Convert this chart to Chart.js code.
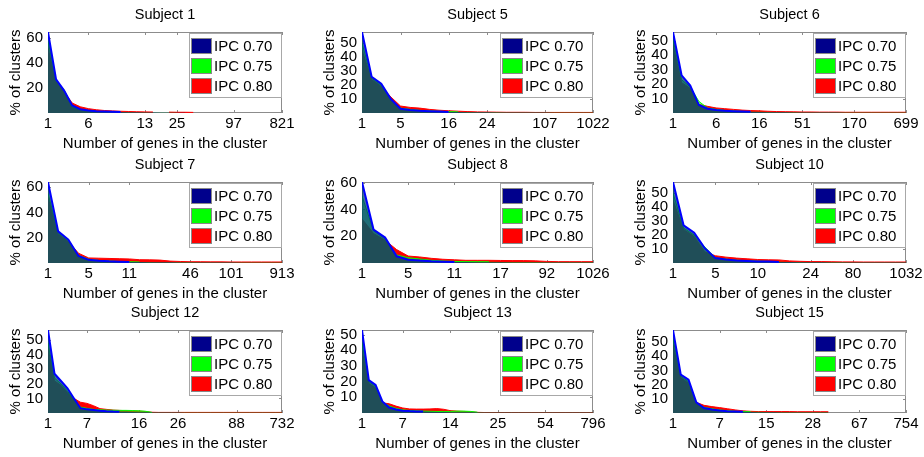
<!DOCTYPE html>
<html>
<head>
<meta charset="utf-8">
<script src="https://cdn.jsdelivr.net/npm/chart.js@4.4.1/dist/chart.umd.min.js"></script>
<style>
    body { margin: 0; background: #fff; }
    #page { position: relative; width: 924px; height: 457px; overflow: hidden; background: #fff; }
    #page canvas { position: absolute; }
</style>
</head>
<body>
<div id="page"></div>
<script>
const titles = ["Subject 1", "Subject 5", "Subject 6", "Subject 7", "Subject 8", "Subject 10", "Subject 12", "Subject 13", "Subject 15"];
const seriesLabels = ["IPC 0.70", "IPC 0.75", "IPC 0.80"];

// % of clusters, one value per cluster-size rank (1, 2, 3 ...)
const ipc70 = [
    [65, 27, 18, 6, 3, 2, 1.5, 1.2, 1, 0.8, 0.7, 0.6, 0.5, 0.4, 0.3, 0.3, 0.2, 0.2],
    [58, 26, 21, 10, 3, 2.2, 1.6, 1.3, 1, 0.8, 0.7, 0.6, 0.5, 0.5, 0.4, 0.4, 0.3, 0.3, 0.3, 0.3, 0.2, 0.2, 0.2, 0.2, 0.2],
    [56, 26, 19, 5.5, 3, 2, 1.5, 1.2, 1, 0.8, 0.7, 0.6, 0.5, 0.5, 0.4, 0.4, 0.3, 0.3, 0.3, 0.3, 0.2, 0.2, 0.2, 0.2, 0.2, 0.2, 0.2, 0.2],
    [64, 25, 18.5, 5.5, 2.5, 1.8, 1.3, 1, 0.8, 0.7, 0.6, 0.5, 0.5, 0.4, 0.4, 0.3, 0.3, 0.3, 0.3, 0.2, 0.2, 0.2, 0.2, 0.2],
    [60.5, 25, 19, 5, 2.5, 1.8, 1.3, 1, 0.8, 0.7, 0.6, 0.5, 0.5, 0.4, 0.4, 0.3, 0.3, 0.3, 0.3, 0.3, 0.3],
    [58, 27, 21.7, 10.6, 3.5, 2.5, 1.8, 1.4, 1.1, 1, 0.8, 0.7, 0.6, 0.5, 0.5, 0.4, 0.4, 0.3, 0.3, 0.3, 0.3, 0.3, 0.3],
    [57, 27, 22, 17, 10, 3.3, 2.5, 2, 1.5, 1.2, 1, 0.9, 0.8, 0.7, 0.6, 0.5, 0.4, 0.3, 0.3, 0.3, 0.3, 0.2, 0.2, 0.2, 0.2, 0.2, 0.2, 0.2, 0.2, 0.2, 0.2, 0.2, 0.2, 0.2, 0.2, 0.2, 0.2],
    [53, 21, 18, 7.4, 3.5, 2.2, 1.5, 1.2, 1, 0.9, 0.8, 0.7, 0.6, 0.5, 0.5, 0.4, 0.4, 0.3, 0.3, 0.3, 0.3, 0.3, 0.3, 0.3, 0.3, 0.3, 0.3, 0.3, 0.3, 0.3, 0.3, 0.3, 0.3, 0.3, 0.3],
    [58.5, 27, 23.5, 7.5, 3.5, 2.5, 1.8, 1.3, 1, 0.8, 0.7, 0.6, 0.5, 0.5, 0.4, 0.4, 0.3, 0.3, 0.3, 0.3, 0.3]
];
const ipc75 = [
    [58, 26, 18.5, 5, 2.5, 1.8, 1.3, 1, 0.8, 0.7, 0.6, 0.5, 0.4, 0.3, 0.3, 0.2, 0.2],
    [50, 25, 20, 9, 3.5, 2.6, 1.9, 1.5, 1.2, 1, 0.8, 0.7, 0.6, 0.5, 0.5, 0.4, 0.4, 0.4, 0.3, 0.3, 0.3, 0.3, 0.3, 0.3, 0.3],
    [51, 23, 18, 8, 3.5, 2.5, 1.8, 1.4, 1.1, 0.9, 0.8, 0.7, 0.6, 0.5, 0.5, 0.4, 0.4, 0.4, 0.3, 0.3, 0.3, 0.3, 0.3, 0.3, 0.3, 0.3, 0.3, 0.3],
    [55, 24, 18, 6, 3, 2, 1.5, 1.2, 1, 0.8, 0.7, 0.6, 0.6, 0.5, 0.5, 0.4, 0.4, 0.4, 0.4, 0.3, 0.3, 0.3, 0.3, 0.3],
    [50, 24, 18, 6, 4, 3, 2, 1.5, 1.2, 1, 1, 0.9, 0.8, 0.8, 0.7, 0.7, 0.6, 0.6, 0.6, 0.6, 0.6],
    [50, 25, 20, 11.5, 3.7, 2.8, 2, 1.6, 1.3, 1.1, 0.9, 0.8, 0.7, 0.6, 0.5, 0.5, 0.5, 0.4, 0.4, 0.4, 0.4, 0.4, 0.4],
    [48, 24, 20, 15, 9, 4, 3.2, 2.5, 2.2, 2, 1.9, 1.8, 1.8, 1.7, 1.5, 1.2, 0.4, 0.3, 0.3, 0.3, 0.3, 0.3, 0.3, 0.3, 0.3, 0.3, 0.3, 0.3, 0.3, 0.3, 0.3, 0.3, 0.3, 0.3, 0.3, 0.3, 0.3],
    [45, 20, 17, 7, 4.5, 3, 2, 1.6, 1.4, 1.2, 1.1, 1, 1, 1, 1.2, 1.2, 1, 0.5, 0.3, 0.3, 0.3, 0.3, 0.3, 0.3, 0.3, 0.3, 0.3, 0.3, 0.3, 0.3, 0.3, 0.3, 0.3, 0.3, 0.3],
    [52, 26, 22, 7, 4, 3, 2.2, 1.6, 1.2, 1, 0.9, 0.8, 0.7, 0.6, 0.6, 0.5, 0.5, 0.5, 0.5, 0.5, 0.5]
];
const ipc80 = [
    [52, 25, 17, 8, 5, 3.5, 2.6, 2, 1.7, 1.4, 1.2, 1, 0.9, 0.8, null, 0.7, 0.6, 0.6, 0.5],
    [45, 24, 19, 11.5, 5, 4, 3.5, 2.6, 2, 1.6, 1.3, 1, 0.8, 0.7, 0.6, 0.5, 0.5, 0.5, 0.4, 0.4, 0.4, 0.4, 0.4, 0.4, 0.4],
    [47, 21, 17, 6, 4.6, 3.5, 3, 2.5, 2, 1.7, 1.5, 1.2, 1, 0.9, 0.8, 0.7, 0.7, 0.6, 0.6, 0.6, 0.5, 0.5, 0.5, 0.5, 0.5, 0.5, 0.5, 0.5],
    [52, 23, 17, 7.7, 4, 3.8, 3.6, 3.4, 3.2, 2.6, 2.5, 2.3, 1.5, 1.2, 1, 1, 0.9, 0.9, 0.8, 0.8, 0.8, 0.8, 0.8, 0.8],
    [33, 22, 17, 10, 5.2, 4.5, 3.5, 2.8, 2.4, 2, 2, 2, 1.9, 1.8, 1.8, 1.6, 1.2, 1, 1, 1, 1],
    [45, 24, 19, 8, 5.2, 4.2, 3.5, 3, 2.5, 2.3, 2.2, 1.5, 1.2, 1, 1, 0.9, 0.8, 0.8, 0.7, 0.7, 0.7, 0.7, 0.7],
    [45, 22, 19, 14, 10, 7.4, 6.6, 5, 3, 2.5, 2, 1.8, 1.6, 1.5, 1.3, 1, 0.5, 0.4, 0.4, 0.4, 0.4, 0.4, 0.4, 0.4, 0.4, 0.4, 0.4, 0.4, 0.4, 0.4, 0.4, 0.4, 0.4, 0.4, 0.4, 0.4, 0.4],
    [40, 19, 16, 6.5, 5.9, 4.4, 3.2, 2.6, 2.5, 2.5, 2.6, 2.8, 2.4, 1.5, 1.2, 1, 0.8, 0.4, 0.3, 0.3, 0.3, 0.3, 0.3, 0.3, 0.3, 0.3, 0.3, 0.3, 0.3, 0.3, 0.3, 0.3, 0.3, 0.3, 0.3],
    [48, 25, 21, 7.5, 5.4, 4.5, 3.8, 3, 2.2, 1.5, 1.2, 1, 1, 1, 1, 1, 0.9, 0.9, 0.9, 0.9, 0.9]
];

// rank positions of the x tick labels, last one = number of ranks
const tickIdx = [
    [1, 6, 13, 17, 24, 30],
    [1, 5, 10, 14, 20, 25],
    [1, 6, 11, 16, 22, 28],
    [1, 5, 9, 15, 19, 24],
    [1, 5, 9, 13, 17, 21],
    [1, 5, 9, 14, 18, 23],
    [1, 7, 15, 21, 30, 37],
    [1, 7, 14, 21, 28, 35],
    [1, 7, 13, 19, 25, 31]
];
const tickLabels = [
    ["1", "6", "13", "25", "97", "821"],
    ["1", "5", "16", "24", "107", "1022"],
    ["1", "6", "16", "51", "170", "699"],
    ["1", "5", "11", "46", "101", "913"],
    ["1", "5", "11", "17", "92", "1026"],
    ["1", "5", "10", "24", "80", "1032"],
    ["1", "7", "16", "26", "88", "732"],
    ["1", "7", "14", "25", "54", "796"],
    ["1", "7", "15", "28", "67", "754"]
];
const yStep = [20, 10, 10, 20, 20, 10, 10, 10, 10];

const legendColors = ["#00008c", "#00ff00", "#ff0000"];
const lineColors = ["#0000ff", "#00ff00", "#ff0000"];
const fillColors = ["rgba(0,61,117,0.75)", "rgba(0,255,0,0.5)", "rgba(255,0,0,1)"];

// plot area placement on the page
const colLeft = [48, 362, 673];
const colWidth = [234, 231, 233];
const rowTop = [32, 182, 330];
const rowHeight = [81, 81, 83];

const FONT = '"Liberation Sans", Arial, Helvetica, sans-serif';
Chart.defaults.font.family = FONT;
Chart.defaults.color = "#000";

// box around the plot area with inward tick marks
const axesBox = {
    id: "axesBox",
    beforeDatasetsDraw(chart) {
        const ctx = chart.ctx;
        const a = chart.chartArea;
        const sx = chart.scales.x;
        const sy = chart.scales.y;
        ctx.save();
        ctx.strokeStyle = "#8c8c8c";
        ctx.lineWidth = 1;
        ctx.strokeRect(a.left + 0.5, a.top + 0.5, a.width - 1, a.height - 1);
        ctx.beginPath();
        sx.ticks.forEach(function(t) {
            const px = Math.round(sx.getPixelForValue(t.value)) + 0.5;
            ctx.moveTo(px, a.top);
            ctx.lineTo(px, a.top + 3);
            ctx.moveTo(px, a.bottom);
            ctx.lineTo(px, a.bottom - 3);
        });
        sy.ticks.forEach(function(t) {
            const py = Math.round(sy.getPixelForValue(t.value)) + 0.5;
            ctx.moveTo(a.left, py);
            ctx.lineTo(a.left + 3, py);
            ctx.moveTo(a.right, py);
            ctx.lineTo(a.right - 3, py);
        });
        ctx.stroke();
        ctx.restore();
    }
};

// legend box in the top right corner of the plot
const legendBox = {
    id: "legendBox",
    afterDatasetsDraw(chart) {
        const ctx = chart.ctx;
        const a = chart.chartArea;
        const w = 92, h = 64;
        const x = a.right - w - 1;
        const y = a.top + 1;
        ctx.save();
        ctx.fillStyle = "#fff";
        ctx.fillRect(x, y, w, h);
        ctx.strokeStyle = "#a8a8a8";
        ctx.lineWidth = 1;
        ctx.strokeRect(x + 0.5, y + 0.5, w, h);
        ctx.font = "15px " + FONT;
        ctx.textBaseline = "middle";
        chart.data.datasets.forEach(function(ds, i) {
            const top = y + 5 + i * 20;
            ctx.fillStyle = legendColors[i];
            ctx.fillRect(x + 2, top, 21, 16);
            ctx.strokeStyle = "#888";
            ctx.strokeRect(x + 2.5, top + 0.5, 20, 15);
            ctx.fillStyle = "#000";
            ctx.fillText(ds.label, x + 25, top + 8.5);
        });
        ctx.restore();
    }
};

function toPoints(values) {
    return values.map(function(v, i) {
        return { x: i + 1, y: v };
    });
}

// the blue and green outlines are hidden along the flat tail, where the red area shows
function couleurSegment(i) {
    return function(ctx) {
        if (i < 2 && ctx.p0.parsed.y < 1 && ctx.p1.parsed.y < 1) {
            return "rgba(0,0,0,0)";
        }
        return lineColors[i];
    };
}

function dessinerPanneau(p) {
    const col = p % 3;
    const row = Math.floor(p / 3);
    const canvas = document.createElement("canvas");
    const w = 48 + colWidth[col] + 22;
    const h = 32 + rowHeight[row] + 38;
    canvas.width = w;
    canvas.height = h;
    canvas.style.left = (colLeft[col] - 48) + "px";
    canvas.style.top = (rowTop[row] - 32) + "px";
    document.getElementById("page").appendChild(canvas);

    const series = [ipc70[p], ipc75[p], ipc80[p]];
    const ticksX = tickIdx[p];
    const labelsX = tickLabels[p];
    const step = yStep[p];
    let yMax = 0;
    series.forEach(function(s) {
        s.forEach(function(v) {
            if (v !== null && v > yMax) yMax = v;
        });
    });

    new Chart(canvas, {
        type: "line",
        data: {
            datasets: series.map(function(s, i) {
                return {
                    label: seriesLabels[i],
                    data: toPoints(s),
                    borderColor: lineColors[i],
                    backgroundColor: fillColors[i],
                    borderWidth: i === 0 ? 2 : 1,
                    segment: { borderColor: couleurSegment(i) },
                    fill: "origin",
                    pointRadius: 0,
                    tension: 0,
                    spanGaps: false
                };
            })
        },
        options: {
            responsive: false,
            animation: false,
            devicePixelRatio: 1,
            layout: { padding: { left: 0, right: 22, top: 0, bottom: 0 } },
            plugins: {
                legend: { display: false },
                tooltip: { enabled: false },
                title: {
                    display: true,
                    text: titles[p],
                    fullSize: false,
                    color: "#000",
                    font: { size: 14.5, weight: "normal", lineHeight: "16px" },
                    padding: { top: 7, bottom: 9 }
                }
            },
            scales: {
                x: {
                    type: "linear",
                    min: 1,
                    max: ticksX[ticksX.length - 1],
                    grid: { display: false, drawTicks: false },
                    border: { display: false },
                    afterBuildTicks: function(scale) {
                        scale.ticks = ticksX.map(function(v) { return { value: v }; });
                    },
                    afterFit: function(scale) {
                        scale.height = 38;
                        scale.paddingLeft = 0;
                        scale.paddingRight = 0;
                    },
                    ticks: {
                        autoSkip: false,
                        maxRotation: 0,
                        padding: 2,
                        font: { size: 15, lineHeight: 1.2 },
                        callback: function(value) {
                            const k = ticksX.indexOf(value);
                            return k >= 0 ? labelsX[k] : "";
                        }
                    },
                    title: {
                        display: true,
                        text: "Number of genes in the cluster",
                        font: { size: 15, lineHeight: "15px" },
                        padding: { top: 0, bottom: 0 }
                    }
                },
                y: {
                    min: 0,
                    max: yMax,
                    grid: { display: false, drawTicks: false },
                    border: { display: false },
                    afterBuildTicks: function(scale) {
                        const vals = [];
                        for (let v = step; v <= scale.max + 1e-9; v += step) {
                            vals.push({ value: v });
                        }
                        scale.ticks = vals;
                    },
                    afterFit: function(scale) {
                        scale.width = 48;
                        scale.paddingTop = 0;
                        scale.paddingBottom = 0;
                    },
                    ticks: {
                        stepSize: step,
                        autoSkip: false,
                        padding: 5,
                        font: { size: 15 }
                    },
                    title: {
                        display: true,
                        text: "% of clusters",
                        font: { size: 15, lineHeight: "16px" },
                        padding: { top: 8, bottom: 0 }
                    }
                }
            }
        },
        plugins: [axesBox, legendBox]
    });
}

for (let p = 0; p < titles.length; p++) {
    dessinerPanneau(p);
}
</script>
</body>
</html>
